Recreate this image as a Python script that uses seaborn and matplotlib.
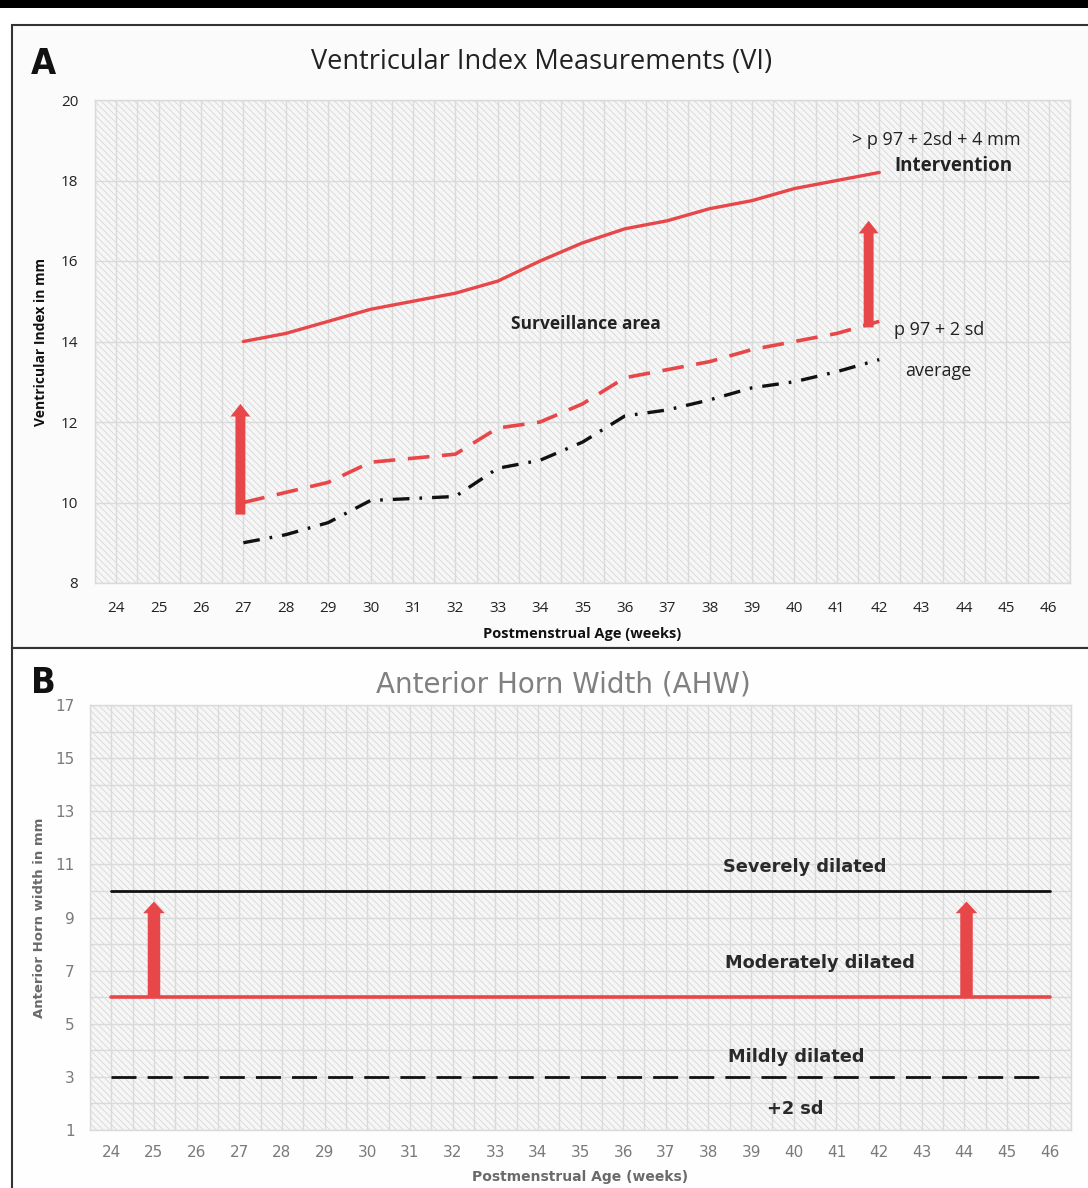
import matplotlib
matplotlib.use("Agg")
import matplotlib.pyplot as plt
import matplotlib.patches as mpatches
import seaborn as sns
import pandas as pd
import numpy as np

# ---------------- data ----------------
week_ticks = list(range(24, 47))

weeks_a = [27, 28, 29, 30, 31, 32, 33, 34, 35, 36, 37, 38, 39, 40, 41, 42]
intervention = [14.0, 14.2, 14.5, 14.8, 15.0, 15.2, 15.5, 16.0, 16.45, 16.8, 17.0, 17.3, 17.5, 17.8, 18.0, 18.2]
p97_2sd = [10.0, 10.25, 10.5, 11.0, 11.1, 11.2, 11.85, 12.0, 12.45, 13.1, 13.3, 13.5, 13.8, 14.0, 14.2, 14.5]
average = [9.0, 9.2, 9.5, 10.05, 10.1, 10.15, 10.85, 11.05, 11.5, 12.15, 12.3, 12.55, 12.85, 13.0, 13.25, 13.55]

yticks_a = [8, 10, 12, 14, 16, 18, 20]
yticks_b = [1, 3, 5, 7, 9, 11, 13, 15, 17]

weeks_b = [24, 46]
severe_line = [10, 10]
moderate_line = [6, 6]
mild_line = [3, 3]

# arrows: (x, y_start, y_end)
arrows_a = [(26.93, 9.7, 12.45), (41.75, 14.35, 17.0)]
arrows_b = [(25.0, 6.0, 9.6), (44.05, 6.0, 9.6)]

RED = "#e8474a"

sns.set_theme(style="white")
plt.rcParams["font.family"] = ["Open Sans", "DejaVu Sans"]
plt.rcParams["hatch.linewidth"] = 0.5

fig = plt.figure(figsize=(10.88, 11.88), dpi=100)
W, H = 1088, 1188


def fx(px):
    return px / W


def fy(py):
    return 1 - py / H


# frame elements
fig.add_artist(mpatches.Rectangle((0, fy(8)), 1, 8 / H, transform=fig.transFigure,
                                  facecolor="black", edgecolor="none", zorder=-5))
fig.add_artist(mpatches.Rectangle((fx(12), fy(648)), fx(1100 - 12), (648 - 25) / H,
                                  transform=fig.transFigure, facecolor="#fbfbfb",
                                  edgecolor="#333333", lw=1.5, zorder=-5))
fig.add_artist(mpatches.Rectangle((fx(12), fy(1192)), fx(1100 - 12), (1192 - 648) / H,
                                  transform=fig.transFigure, facecolor="#fefefe",
                                  edgecolor="#333333", lw=1.5, zorder=-5))


def style_axes(ax, ylim, yticks, minor_y):
    ax.add_patch(mpatches.Rectangle((0, 0), 1, 1, transform=ax.transAxes,
                                    facecolor="#f6f6f6", edgecolor="#d2d2d2",
                                    hatch="\\" * 5, lw=0, zorder=0))
    ax.set_xlim(23.5, 46.5)
    ax.set_ylim(*ylim)
    ax.set_xticks(week_ticks)
    ax.set_xticks(np.arange(23.5, 47, 1.0), minor=True)
    ax.set_yticks(yticks)
    if minor_y is not None:
        ax.set_yticks(minor_y, minor=True)
    ax.grid(True, which="both", color="#dadada", lw=1.0, zorder=1)
    ax.set_axisbelow(True)
    ax.tick_params(which="both", length=0)
    for s in ax.spines.values():
        s.set_color("#dadada")
        s.set_linewidth(1.0)
    ax.set_facecolor("none")


# ---------------- Panel A ----------------
axA = fig.add_axes([fx(95), fy(583), fx(1070 - 95), (583 - 100) / H])
style_axes(axA, (8, 20), yticks_a, None)

dfA = pd.DataFrame({"week": weeks_a, "intervention": intervention,
                    "p97": p97_2sd, "average": average})
sns.lineplot(data=dfA, x="week", y="intervention", ax=axA, color=RED, lw=2.4,
             zorder=3)
sns.lineplot(data=dfA, x="week", y="p97", ax=axA, color=RED, lw=2.6, zorder=3,
             linestyle=(0, (6, 3.5)))
sns.lineplot(data=dfA, x="week", y="average", ax=axA, color="#111111", lw=2.4,
             zorder=3, linestyle=(0, (5, 3, 0.8, 3)))

for x, y0, y1 in arrows_a:
    axA.annotate("", xy=(x, y1), xytext=(x, y0),
                 arrowprops=dict(arrowstyle="simple,head_width=1.1,head_length=0.7,tail_width=0.55",
                                 color=RED, mutation_scale=13, shrinkA=0, shrinkB=0, lw=0),
                 zorder=4)

axA.set_xlabel("Postmenstrual Age (weeks)", fontsize=10.5, fontweight="bold",
               color="#111111", labelpad=8)
axA.set_ylabel("Ventricular Index in mm", fontsize=10, fontweight="bold",
               color="#111111", labelpad=9)
axA.tick_params(axis="x", labelsize=11, colors="#222222", pad=13)
axA.tick_params(axis="y", labelsize=11, colors="#222222", pad=12)

axA.text(43.35, 19.0, "> p 97 + 2sd + 4 mm", fontsize=13, ha="center", va="center",
         color="#222222")
axA.text(43.75, 18.36, "Intervention", fontsize=13.5, fontweight="bold", ha="center",
         va="center", color="#222222")
axA.text(35.08, 14.43, "Surveillance area", fontsize=12.5, fontweight="bold",
         ha="center", va="center", color="#222222")
axA.text(43.42, 14.29, "p 97 + 2 sd", fontsize=13, ha="center", va="center",
         color="#222222")
axA.text(43.4, 13.27, "average", fontsize=13, ha="center", va="center",
         color="#222222")

fig.text(fx(542), fy(62), "Ventricular Index Measurements (VI)",
         fontsize=19.5, ha="center", va="center", color="#222222")
fig.text(fx(43), fy(64), "A", fontsize=26, fontweight="bold", ha="center",
         va="center", color="#111111", family="DejaVu Sans", fontstretch="condensed")

# ---------------- Panel B ----------------
axB = fig.add_axes([fx(90), fy(1130), fx(1071 - 90), (1130 - 705) / H])
style_axes(axB, (1, 17), yticks_b, list(range(2, 17, 2)))

dfB = pd.DataFrame({"week": weeks_b, "severe": severe_line,
                    "moderate": moderate_line, "mild": mild_line})
sns.lineplot(data=dfB, x="week", y="severe", ax=axB, color="#111111", lw=2.0, zorder=3)
sns.lineplot(data=dfB, x="week", y="moderate", ax=axB, color=RED, lw=2.6, zorder=3)
sns.lineplot(data=dfB, x="week", y="mild", ax=axB, color="#111111", lw=2.0, zorder=3,
             linestyle=(0, (9, 4)))

for x, y0, y1 in arrows_b:
    axB.annotate("", xy=(x, y1), xytext=(x, y0),
                 arrowprops=dict(arrowstyle="simple,head_width=1.3,head_length=0.7,tail_width=0.75",
                                 color=RED, mutation_scale=12, shrinkA=0, shrinkB=0, lw=0),
                 zorder=4)

fB = ["DejaVu Sans"]
axB.set_xlabel("Postmenstrual Age (weeks)", fontsize=10, fontweight="bold",
               color="#6a6a6a", labelpad=7, family=fB)
axB.set_ylabel("Anterior Horn width in mm", fontsize=9.5, fontweight="bold",
               color="#6a6a6a", labelpad=7, family=fB)
axB.tick_params(axis="x", labelsize=11, colors="#7a7a7a", pad=11)
axB.tick_params(axis="y", labelsize=11, colors="#7a7a7a", pad=11)
for lab in axB.get_xticklabels() + axB.get_yticklabels():
    lab.set_family(fB)

for txt, x, y in [("Severely dilated", 40.26, 10.9), ("Moderately dilated", 40.61, 7.3),
                  ("Mildly dilated", 40.07, 3.75), ("+2 sd", 40.03, 1.8)]:
    axB.text(x, y, txt, fontsize=12.8, fontweight="bold", ha="center", va="center",
             color="#2a2a2a", family=fB)

fig.text(fx(563), fy(684), "Anterior Horn Width (AHW)", fontsize=20, ha="center",
         va="center", color="#808080", family=fB)
fig.text(fx(43), fy(683), "B", fontsize=26, fontweight="bold", ha="center",
         va="center", color="#111111", family="DejaVu Sans", fontstretch="condensed")

fig.savefig("out.png", dpi=100)
